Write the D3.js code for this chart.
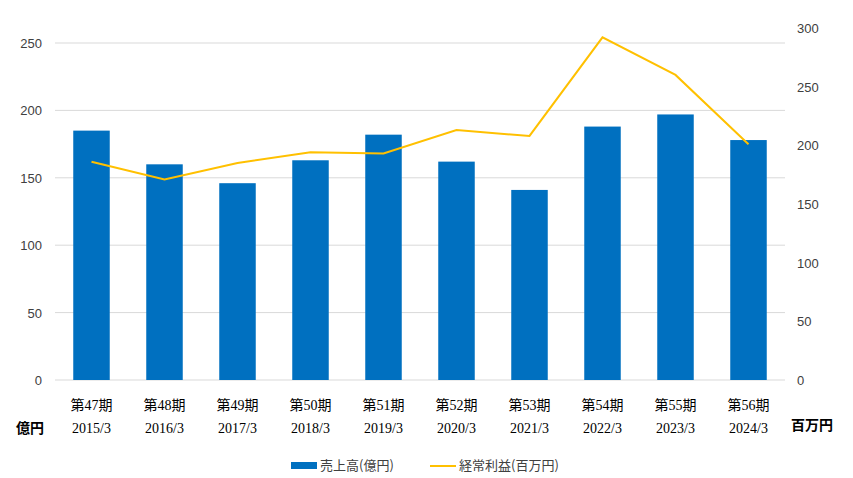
<!DOCTYPE html><html><head><meta charset="utf-8"><script src="https://cdn.jsdelivr.net/npm/d3@7"></script>
<style>body{margin:0;background:#fff}</style></head><body><svg id="c" width="853" height="478"></svg>
<script>
const periods=["第47期","第48期","第49期","第50期","第51期","第52期","第53期","第54期","第55期","第56期"];
const years=["2015/3","2016/3","2017/3","2018/3","2019/3","2020/3","2021/3","2022/3","2023/3","2024/3"];
const sales=[185,160,146,163,182,162,141,188,197,178];
const profit=[186,171,185,194,193,213,208,292,260,201];
const leftTicks=[0,50,100,150,200,250];
const rightTicks=[0,50,100,150,200,250,300];
const svg=d3.select("#c");
const font="'Century Gothic','Liberation Sans','Noto Sans CJK JP',sans-serif";
const x=d3.scaleBand().domain(periods).range([55,785]).paddingInner(0.5).paddingOuter(0.25);
const yL=d3.scaleLinear().domain([0,250]).range([380,43]);
const yR=d3.scaleLinear().domain([0,300]).range([380,28]);
svg.append("g").selectAll("line").data(leftTicks).join("line").attr("x1",55).attr("x2",785)
 .attr("y1",d=>yL(d)).attr("y2",d=>yL(d)).attr("stroke","#d9d9d9");
svg.append("g").selectAll("text").data(leftTicks).join("text").attr("x",42).attr("y",d=>yL(d)+5)
 .attr("text-anchor","end").attr("font-family",font).attr("font-size",13).attr("fill","#404040").text(d=>d);
svg.append("g").selectAll("text").data(rightTicks).join("text").attr("x",797).attr("y",d=>yR(d)+5)
 .attr("font-family",font).attr("font-size",13).attr("fill","#404040").text(d=>d);
svg.append("g").selectAll("rect").data(sales).join("rect").attr("x",(d,i)=>x(periods[i])).attr("width",x.bandwidth())
 .attr("y",d=>yL(d)).attr("height",d=>380-yL(d)).attr("fill","#0070c0");
const line=d3.line().x((d,i)=>x(periods[i])+x.bandwidth()/2).y(d=>yR(d));
svg.append("path").datum(profit).attr("d",line).attr("fill","none").attr("stroke","#ffc000").attr("stroke-width",2);
const sf="'Liberation Serif','Noto Sans CJK JP',serif";
const g=svg.append("g").selectAll("g").data(periods).join("g");
g.append("text").attr("x",d=>x(d)+x.bandwidth()/2).attr("y",410).attr("text-anchor","middle").attr("font-family",sf).attr("font-size",14).attr("fill","#000").text(d=>d);
g.append("text").attr("x",d=>x(d)+x.bandwidth()/2).attr("y",433).attr("text-anchor","middle").attr("font-family",sf).attr("font-size",14).attr("fill","#000").text((d,i)=>years[i]);
svg.append("text").attr("x",30).attr("y",433).attr("text-anchor","middle").attr("font-family","'Noto Sans CJK JP'").attr("font-weight","bold").attr("font-size",14).text("億円");
svg.append("text").attr("x",812).attr("y",430).attr("text-anchor","middle").attr("font-family","'Noto Sans CJK JP'").attr("font-weight","bold").attr("font-size",14).text("百万円");
const lg=svg.append("g").attr("font-family","'Noto Sans CJK JP'").attr("font-size",13).attr("fill","#404040");
lg.append("rect").attr("x",291).attr("y",462).attr("width",26).attr("height",7).attr("fill","#0070c0");
lg.append("text").attr("x",320).attr("y",470).text("売上高(億円)");
lg.append("line").attr("x1",430).attr("x2",456).attr("y1",466).attr("y2",466).attr("stroke","#ffc000").attr("stroke-width",2);
lg.append("text").attr("x",459).attr("y",470).text("経常利益(百万円)");
</script></body></html>
